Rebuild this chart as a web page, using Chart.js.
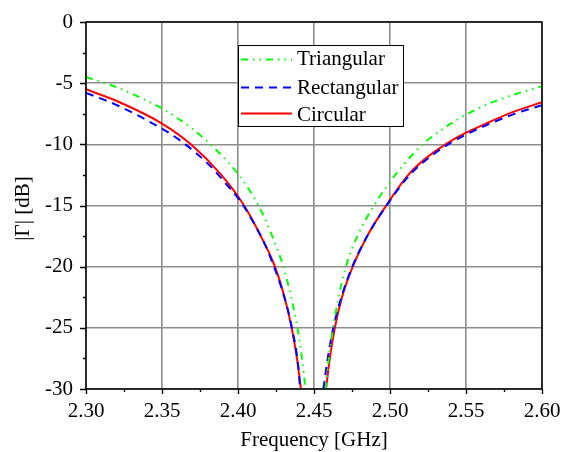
<!DOCTYPE html>
<html>
<head>
<meta charset="utf-8">
<script src="https://cdn.jsdelivr.net/npm/chart.js@4/dist/chart.umd.min.js"></script>
<style>
html,body{margin:0;padding:0;background:#fff;}
#wrap{width:561px;height:452px;position:relative;}
</style>
</head>
<body>
<div id="wrap"><canvas id="c" width="561" height="452"></canvas></div>
<script>
// ---- data ----
const xTickLabels = ['2.30','2.35','2.40','2.45','2.50','2.55','2.60'];
const yTickLabels = ['0','-5','-10','-15','-20','-25','-30'];
const seriesNames = ['Triangular','Rectangular','Circular'];

const triFreq = [2.300, 2.3195, 2.336, 2.3513, 2.3678, 2.3818, 2.4005, 2.4134, 2.4225, 2.4298, 2.4350, 2.4391, 2.4421, 2.4444, 2.451, 2.4577, 2.4597, 2.4625, 2.4662, 2.4710, 2.4785, 2.4895, 2.5035, 2.5215, 2.5318, 2.5461, 2.5636, 2.5811, 2.600];
const triDb   = [-4.5, -5.3, -6.2, -7.16, -8.53, -10.0, -12.5, -15.0, -17.5, -20.0, -22.5, -25.0, -27.5, -30.0, null, -30.0, -27.5, -25.0, -22.5, -20.0, -17.5, -15.0, -12.5, -10.0, -9.0, -7.85, -6.75, -5.95, -5.25];

const rectFreq = [2.300, 2.3195, 2.3393, 2.3612, 2.382, 2.3919, 2.4007, 2.4079, 2.4178, 2.4232, 2.4298, 2.4353, 2.4397, 2.4409, 2.450, 2.4562, 2.4590, 2.4627, 2.4680, 2.4752, 2.4850, 2.4977, 2.5130, 2.5225, 2.537, 2.550, 2.566, 2.581, 2.600];
const rectDb   = [-5.8, -6.75, -7.98, -9.62, -11.8, -13.2, -14.5, -15.9, -18.2, -19.85, -22.2, -24.9, -28.2, -30.0, null, -30.0, -27.5, -25.0, -22.5, -20.0, -17.5, -15.0, -12.5, -11.4, -10.1, -9.2, -8.3, -7.55, -6.8];

const circFreq = [2.300, 2.321, 2.350, 2.369, 2.389, 2.4040, 2.4150, 2.4243, 2.4306, 2.4353, 2.4388, 2.4414, 2.450, 2.4579, 2.4604, 2.4637, 2.4684, 2.4755, 2.4850, 2.4975, 2.5120, 2.5225, 2.5365, 2.550, 2.566, 2.581, 2.600];
const circDb   = [-5.5, -6.5, -8.3, -10.0, -12.5, -15.0, -17.5, -20.0, -22.5, -25.0, -27.5, -30.0, null, -30.0, -27.5, -25.0, -22.5, -20.0, -17.5, -15.0, -12.5, -11.25, -10.0, -9.05, -8.15, -7.35, -6.56];

function pts(fs, ds){ return fs.map((f,i)=>({x:f, y:ds[i]})); }

const FONT = '"Liberation Serif","Times New Roman",serif';

const frame = {
  id:'frame',
  afterDraw(chart){
    const {ctx, chartArea:a, scales:{x, y}} = chart;
    ctx.save();
    ctx.strokeStyle = '#000';
    ctx.lineWidth = 1.5;
    ctx.strokeRect(a.left, a.top, a.right-a.left, a.bottom-a.top);
    // ticks (outward)
    ctx.lineWidth = 1.3;
    ctx.beginPath();
    for (let v = 2.30; v <= 2.6001; v += 0.025) {
      const px = Math.round(x.getPixelForValue(v)) + 0.5;
      const major = Math.abs((v - 2.30)/0.05 - Math.round((v - 2.30)/0.05)) < 1e-6;
      ctx.moveTo(px, a.bottom);
      ctx.lineTo(px, a.bottom + (major ? 5 : 3));
    }
    for (let v = 0; v >= -30.0001; v -= 2.5) {
      const py = Math.round(y.getPixelForValue(v)) + 0.5;
      const major = Math.abs(v/5 - Math.round(v/5)) < 1e-6;
      ctx.moveTo(a.left, py);
      ctx.lineTo(a.left - (major ? 6 : 3), py);
    }
    ctx.stroke();
    // axis titles
    ctx.fillStyle = '#000';
    ctx.font = '21px ' + FONT;
    ctx.textAlign = 'center';
    ctx.textBaseline = 'alphabetic';
    ctx.fillText('Frequency [GHz]', (a.left + a.right)/2, 446);
    ctx.save();
    ctx.translate(23, (a.top + a.bottom)/2 + 3);
    ctx.rotate(-Math.PI/2);
    ctx.textBaseline = 'middle';
    ctx.fillText('|\u0393| [dB]', 0, 0);
    ctx.restore();
    // legend
    const lx = 238, ly = 45, lw = 165, lh = 81;
    ctx.fillStyle = '#fff';
    ctx.fillRect(lx, ly, lw, lh);
    ctx.strokeStyle = '#000';
    ctx.lineWidth = 1;
    ctx.strokeRect(lx + 0.5, ly + 0.5, lw, lh);
    const lineY = [59.5, 87.5, 113.5];
    const textY = [65, 94, 121];
    chart.data.datasets.forEach((ds, i) => {
      ctx.save();
      ctx.strokeStyle = ds.borderColor;
      ctx.lineWidth = ds.borderWidth;
      ctx.setLineDash(ds.borderDash || []);
      ctx.beginPath();
      ctx.moveTo(241, lineY[i]);
      ctx.lineTo(292, lineY[i]);
      ctx.stroke();
      ctx.restore();
      ctx.fillStyle = '#000';
      ctx.font = '21px ' + FONT;
      ctx.textAlign = 'left';
      ctx.textBaseline = 'alphabetic';
      ctx.fillText(ds.label, 297, textY[i]);
    });
    ctx.restore();
  }
};

new Chart(document.getElementById('c'), {
  type: 'line',
  data: {
    datasets: [
      { label: seriesNames[0], data: pts(triFreq, triDb), borderColor: '#00ff00', borderWidth: 2, borderDash: [7,5,1.5,5,1.5,5] },
      { label: seriesNames[1], data: pts(rectFreq, rectDb), borderColor: '#0000ff', borderWidth: 2, borderDash: [8,6] },
      { label: seriesNames[2], data: pts(circFreq, circDb), borderColor: '#ff0000', borderWidth: 2 }
    ]
  },
  options: {
    responsive: false,
    animation: false,
    devicePixelRatio: 1,
    spanGaps: false,
    elements: { point: { radius: 0 }, line: { cubicInterpolationMode: 'monotone', fill: false } },
    layout: { padding: { left: 0, right: 19, top: 22, bottom: 0 } },
    plugins: { legend: { display: false }, tooltip: { enabled: false } },
    scales: {
      x: {
        type: 'linear', min: 2.30, max: 2.60,
        afterFit(s){ s.height = 63; s.paddingLeft = 0; s.paddingRight = 0; },
        afterBuildTicks(s){ s.ticks = xTickLabels.map(t => ({value: parseFloat(t)})); },
        ticks: { callback: (v) => Number(v).toFixed(2), color: '#000', font: { family: FONT, size: 21 }, padding: 10, maxRotation: 0, autoSkip: false },
        grid: { color: '#8c8c8c', lineWidth: 1.6, drawTicks: false },
        border: { display: false }
      },
      y: {
        type: 'linear', min: -30, max: 0,
        afterFit(s){ s.width = 86; s.paddingTop = 0; s.paddingBottom = 0; },
        afterBuildTicks(s){ s.ticks = yTickLabels.map(t => ({value: parseFloat(t)})); },
        ticks: { callback: (v) => String(v), color: '#000', font: { family: FONT, size: 21 }, padding: 13 },
        grid: { color: '#8c8c8c', lineWidth: 1.6, drawTicks: false },
        border: { display: false }
      }
    }
  },
  plugins: [frame]
});
</script>
</body>
</html>
